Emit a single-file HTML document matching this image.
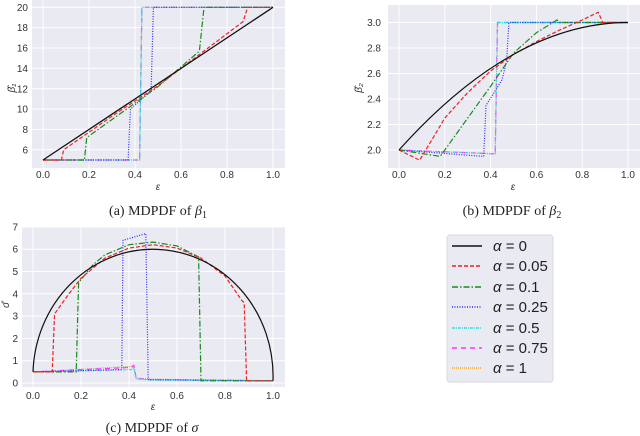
<!DOCTYPE html>
<html><head><meta charset="utf-8"><style>
body{margin:0;background:#fff;width:640px;height:436px;overflow:hidden}
svg{display:block}
.t{font-family:"Liberation Sans",sans-serif;font-size:10px;fill:#333}
.c{font-family:"Liberation Serif",serif;font-size:14px;fill:#222}
.l{font-family:"Liberation Sans",sans-serif;font-size:15px;fill:#222}
.g{stroke:#fff;stroke-width:1}
path,polyline{fill:none;stroke-width:1.2}
</style></head><body>
<svg width="640" height="436" viewBox="0 0 640 436" xmlns="http://www.w3.org/2000/svg">
<!-- (a) -->
<rect x="32" y="0" width="253" height="168" fill="#eaeaf2"/>
<g class="g">
<line x1="43" y1="0" x2="43" y2="168"/><line x1="89" y1="0" x2="89" y2="168"/><line x1="135" y1="0" x2="135" y2="168"/><line x1="181" y1="0" x2="181" y2="168"/><line x1="227" y1="0" x2="227" y2="168"/><line x1="273" y1="0" x2="273" y2="168"/>
<line x1="32" y1="149.8" x2="285" y2="149.8"/><line x1="32" y1="129.4" x2="285" y2="129.4"/><line x1="32" y1="109.1" x2="285" y2="109.1"/><line x1="32" y1="88.7" x2="285" y2="88.7"/><line x1="32" y1="68.3" x2="285" y2="68.3"/><line x1="32" y1="48" x2="285" y2="48"/><line x1="32" y1="27.6" x2="285" y2="27.6"/><line x1="32" y1="7.3" x2="285" y2="7.3"/>
</g>
<g class="t" text-anchor="end">
<text x="28" y="153.5">6</text><text x="28" y="133">8</text><text x="28" y="112.7">10</text><text x="28" y="92.3">12</text><text x="28" y="72">14</text><text x="28" y="51.6">16</text><text x="28" y="31.2">18</text><text x="28" y="11">20</text>
</g>
<g class="t" text-anchor="middle">
<text x="43" y="178">0.0</text><text x="89" y="178">0.2</text><text x="135" y="178">0.4</text><text x="181" y="178">0.6</text><text x="227" y="178">0.8</text><text x="273" y="178">1.0</text>
<text x="158" y="190" font-style="italic">ε</text>
</g>
<text class="t" transform="translate(15,88) rotate(-90)" text-anchor="middle" font-style="italic">β̂₁</text>
<text class="c" x="158" y="215" text-anchor="middle">(a) MDPDF of <tspan font-style="italic">β</tspan><tspan font-size="10" dy="3">1</tspan></text>
<polyline stroke="#f5a623" stroke-dasharray="1,1" points="43,160 139.6,160 141.9,7.3 273,7.3"/>
<polyline stroke="#ff33ff" stroke-dasharray="5,4" points="43,160 139.6,160 141.9,7.3 273,7.3"/>
<polyline stroke="#33e0e0" stroke-dasharray="3,1,1,1" points="43,160 139.6,160 141.9,7.3 273,7.3"/>
<polyline stroke="#2a2af5" stroke-dasharray="1,1.5" points="43,160 128.1,160 130.4,109.1 151.1,90.8 153.4,7.3 273,7.3"/>
<polyline stroke="#1a8a1a" stroke-dasharray="6,2,1.5,2" points="43,160 84.4,160 86.7,137.6 158,86.7 199.4,51.1 204,7.3 273,7.3"/>
<polyline stroke="#f02020" stroke-dasharray="4,2" points="43,160 61.4,160 63.7,149.8 112,116.2 158,85.7 243.1,21.6 247.7,7.3 273,7.3"/>
<line x1="43" y1="160" x2="273" y2="7.3" stroke="#111" stroke-width="1.3"/>

<!-- (b) -->
<rect x="388" y="5" width="252" height="163" fill="#eaeaf2"/>
<g class="g">
<line x1="399" y1="5" x2="399" y2="168"/><line x1="444.8" y1="5" x2="444.8" y2="168"/><line x1="490.6" y1="5" x2="490.6" y2="168"/><line x1="536.4" y1="5" x2="536.4" y2="168"/><line x1="582.2" y1="5" x2="582.2" y2="168"/><line x1="628" y1="5" x2="628" y2="168"/>
<line x1="388" y1="150" x2="640" y2="150"/><line x1="388" y1="124.5" x2="640" y2="124.5"/><line x1="388" y1="99" x2="640" y2="99"/><line x1="388" y1="73.5" x2="640" y2="73.5"/><line x1="388" y1="48" x2="640" y2="48"/><line x1="388" y1="22.5" x2="640" y2="22.5"/>
</g>
<g class="t" text-anchor="end">
<text x="381" y="153.5">2.0</text><text x="381" y="128">2.2</text><text x="381" y="102.5">2.4</text><text x="381" y="77">2.6</text><text x="381" y="51.5">2.8</text><text x="381" y="26">3.0</text>
</g>
<g class="t" text-anchor="middle">
<text x="399" y="178">0.0</text><text x="444.8" y="178">0.2</text><text x="490.6" y="178">0.4</text><text x="536.4" y="178">0.6</text><text x="582.2" y="178">0.8</text><text x="628" y="178">1.0</text>
<text x="513" y="190" font-style="italic">ε</text>
</g>
<text class="t" transform="translate(362,88) rotate(-90)" text-anchor="middle" font-style="italic">β̂₂</text>
<text class="c" x="512" y="215" text-anchor="middle">(b) MDPDF of <tspan font-style="italic">β</tspan><tspan font-size="10" dy="3">2</tspan></text>
<polyline stroke="#f5a623" stroke-dasharray="1,1" points="399,150 495.2,153.8 497.5,22.5 628,22.5"/>
<polyline stroke="#ff33ff" stroke-dasharray="5,4" points="399,150 495.2,153.8 497.5,22.5 628,22.5"/>
<polyline stroke="#33e0e0" stroke-dasharray="3,1,1,1" points="399,150 495.2,153.8 497.5,22.5 628,22.5"/>
<polyline stroke="#2a2af5" stroke-dasharray="1,1.5" points="399,150 483.7,156.4 486,105.4 502,79.9 506.6,60.8 508.9,22.5 628,22.5"/>
<polyline stroke="#1a8a1a" stroke-dasharray="6,2,1.5,2" points="399,150 440.2,156.4 444.8,150 467.7,118.1 490.6,86.25 513.5,53.1 536.4,32.7 557,19.95 559.3,22.5 628,22.5"/>
<polyline stroke="#f02020" stroke-dasharray="4,2" points="399,150 419.6,160.2 433.4,137.3 444.8,118.1 467.7,92.6 490.6,71 513.5,54.4 536.4,41.6 559.3,30.2 582.2,20 598.2,12.3 602.8,22.5 628,22.5"/>
<path d="M399,150 Q513.5,22.5 628,22.5" stroke="#111" stroke-width="1.3"/>

<!-- (c) -->
<rect x="22" y="227" width="263" height="160" fill="#eaeaf2"/>
<g class="g">
<line x1="33" y1="227" x2="33" y2="387"/><line x1="81" y1="227" x2="81" y2="387"/><line x1="129" y1="227" x2="129" y2="387"/><line x1="177" y1="227" x2="177" y2="387"/><line x1="225" y1="227" x2="225" y2="387"/><line x1="273" y1="227" x2="273" y2="387"/>
<line x1="22" y1="383" x2="285" y2="383"/><line x1="22" y1="360.7" x2="285" y2="360.7"/><line x1="22" y1="338.4" x2="285" y2="338.4"/><line x1="22" y1="316.1" x2="285" y2="316.1"/><line x1="22" y1="293.8" x2="285" y2="293.8"/><line x1="22" y1="271.5" x2="285" y2="271.5"/><line x1="22" y1="249.2" x2="285" y2="249.2"/><line x1="22" y1="226.9" x2="285" y2="226.9"/>
</g>
<g class="t" text-anchor="end">
<text x="18" y="386.5">0</text><text x="18" y="364.2">1</text><text x="18" y="341.9">2</text><text x="18" y="319.6">3</text><text x="18" y="297.3">4</text><text x="18" y="275">5</text><text x="18" y="252.7">6</text><text x="18" y="230.4">7</text>
</g>
<g class="t" text-anchor="middle">
<text x="33" y="399">0.0</text><text x="81" y="399">0.2</text><text x="129" y="399">0.4</text><text x="177" y="399">0.6</text><text x="225" y="399">0.8</text><text x="273" y="399">1.0</text>
<text x="153" y="410" font-style="italic">ε</text>
</g>
<text class="t" transform="translate(9,305) rotate(-90)" text-anchor="middle" font-style="italic">σ̂</text>
<text class="c" x="152" y="432" text-anchor="middle">(c) MDPDF of <tspan font-style="italic">σ</tspan></text>
<polyline stroke="#f5a623" stroke-dasharray="1,1" points="33,371.9 131.4,366.4 133.8,364.6 136.2,378 153,379.2 273,380.8"/>
<polyline stroke="#ff33ff" stroke-dasharray="5,4" points="33,371.9 131.4,367.4 133.8,365.6 136.2,378.5 153,379.7 273,380.8"/>
<polyline stroke="#33e0e0" stroke-dasharray="3,1,1,1" points="33,371.9 131.4,369.6 133.8,368 136.2,379 153,380 273,380.8"/>
<polyline stroke="#2a2af5" stroke-dasharray="1,1.5" points="33,371.9 121.8,369.6 123,240.3 145.8,233.6 148.2,379.7 273,380.8"/>
<polyline stroke="#1a8a1a" stroke-dasharray="6,2,1.5,2" points="33,371.9 76.2,371.9 78.6,282.7 93,264.8 105,254.8 129,244.7 153,242.1 177,245.9 198.6,257 201,380.8 273,380.8"/>
<polyline stroke="#f02020" stroke-dasharray="4,2" points="33,371.9 52.2,371.9 54.6,313.9 69,293.8 81,278.2 105,258.1 129,248.1 153,244.7 177,248.1 201,258.1 225,276 241.8,300.5 244.2,302.7 246.6,380.8 273,380.8"/>
<path d="M33,371.9 A120,127 0 0 1 273,380.8" stroke="#111" stroke-width="1.3"/>

<!-- legend -->
<rect x="447" y="235" width="106" height="147" rx="3" fill="#eaeaf2" stroke="#d8d8e0"/>
<line x1="452" y1="246" x2="482" y2="246" stroke="#111" stroke-width="1.5"/>
<line x1="452" y1="266" x2="482" y2="266" stroke="#f02020" stroke-width="1.5" stroke-dasharray="4,2"/>
<line x1="452" y1="287" x2="482" y2="287" stroke="#1a8a1a" stroke-width="1.5" stroke-dasharray="6,2,1.5,2"/>
<line x1="452" y1="307" x2="482" y2="307" stroke="#2a2af5" stroke-width="1.5" stroke-dasharray="1,1.5"/>
<line x1="452" y1="328" x2="482" y2="328" stroke="#33e0e0" stroke-width="1.5" stroke-dasharray="3,1,1,1"/>
<line x1="452" y1="348" x2="482" y2="348" stroke="#ff33ff" stroke-width="1.5" stroke-dasharray="5,4"/>
<line x1="452" y1="368" x2="482" y2="368" stroke="#f5a623" stroke-width="1.5" stroke-dasharray="1,1"/>
<g class="l">
<text x="493" y="251"><tspan font-style="italic">α</tspan> = 0</text>
<text x="493" y="271"><tspan font-style="italic">α</tspan> = 0.05</text>
<text x="493" y="292"><tspan font-style="italic">α</tspan> = 0.1</text>
<text x="493" y="312"><tspan font-style="italic">α</tspan> = 0.25</text>
<text x="493" y="333"><tspan font-style="italic">α</tspan> = 0.5</text>
<text x="493" y="353"><tspan font-style="italic">α</tspan> = 0.75</text>
<text x="493" y="373"><tspan font-style="italic">α</tspan> = 1</text>
</g>
</svg>
</body></html>
